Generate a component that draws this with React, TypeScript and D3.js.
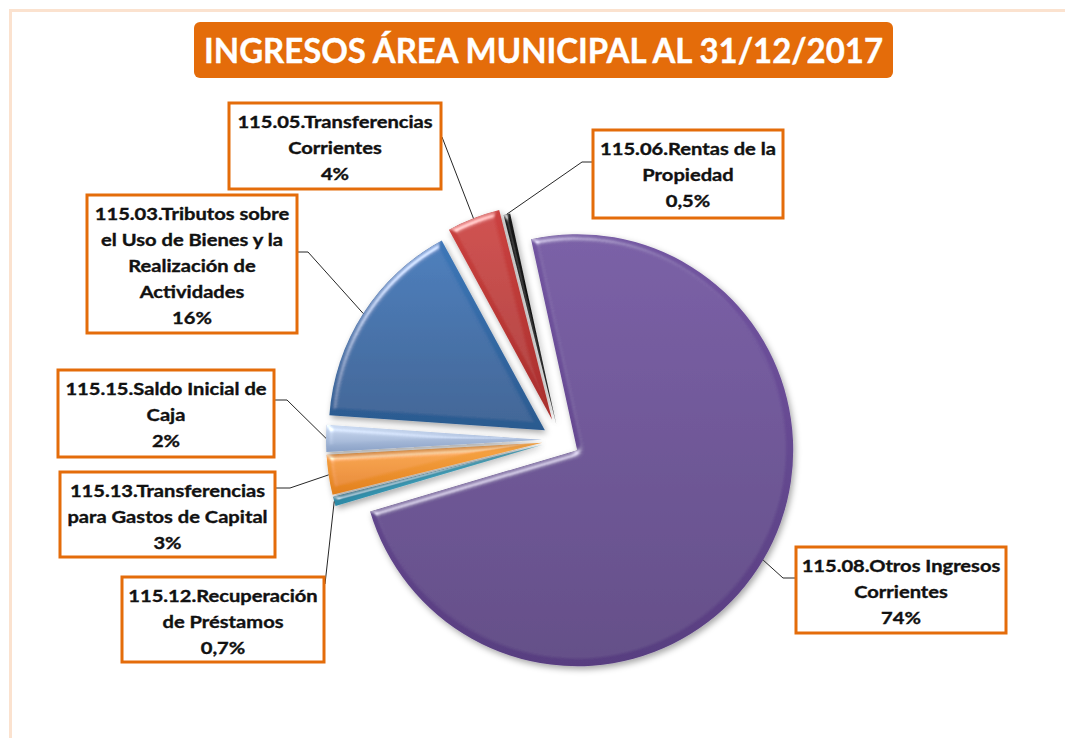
import React, { useEffect, useRef } from 'react';
import * as d3 from 'd3';

// Chart data (order follows the workbook codes, drawn clockwise)
const titleText = 'INGRESOS ÁREA MUNICIPAL AL 31/12/2017';
const categories = ['115.03', '115.05', '115.06', '115.08', '115.12', '115.13', '115.15'];
const categoryLines: string[][] = [
  ['115.03.Tributos sobre', 'el Uso de Bienes y la', 'Realización de', 'Actividades'],
  ['115.05.Transferencias', 'Corrientes'],
  ['115.06.Rentas de la', 'Propiedad'],
  ['115.08.Otros Ingresos', 'Corrientes'],
  ['115.12.Recuperación', 'de Préstamos'],
  ['115.13.Transferencias', 'para Gastos de Capital'],
  ['115.15.Saldo Inicial de', 'Caja'],
];
const values = [16, 4, 0.5, 74, 0.7, 3, 2];
const percentLabels = ['16%', '4%', '0,5%', '74%', '0,7%', '3%', '2%'];

// Styling / layout
const sliceColors: [string, string][] = [
  ['#3d77b8', '#2b5a8f'],
  ['#cc4240', '#a92f2d'],
  ['#1a1a1a', '#000000'],
  ['#7254a1', '#583e80'],
  ['#5cc0da', '#2a88a5'],
  ['#f9a848', '#e27f1c'],
  ['#c9d8ef', '#8aa1c6'],
];
const explodeBy = [18, 22, 16, 20, 18, 18, 18];

interface LabelLayout {
  x: number;
  y: number;
  w: number;
  h: number;
  path: [number, number][];
}

const labelLayout: LabelLayout[] = [
  { x: 87, y: 195, w: 210, h: 138, path: [[308, 252], [297, 252]] },
  { x: 229, y: 103, w: 212, h: 86, path: [[442, 137]] },
  { x: 593, y: 130, w: 190, h: 88, path: [[582, 162], [593, 162]] },
  { x: 796, y: 547, w: 210, h: 86, path: [[783, 578], [796, 578]] },
  { x: 122, y: 577, w: 202, h: 85, path: [[325, 584]] },
  { x: 60, y: 472, w: 215, h: 85, path: [[290, 488], [275, 488]] },
  { x: 58, y: 370, w: 216, h: 87, path: [[287, 400], [274, 400]] },
];

const toRad = (deg: number) => (deg * Math.PI) / 180;

const IngresosPie: React.FC = () => {
  const svgRef = useRef<SVGSVGElement>(null);

  useEffect(() => {
    if (!svgRef.current) return;
    const svg = d3.select(svgRef.current);
    svg.selectAll('*').remove();

    const width = 1065;
    const height = 738;
    const cx = 560;
    const cy = 440;
    const radius = 216;
    const orange = '#e46c0a';
    const font = 'Lato, "Open Sans", sans-serif';
    const stretch = 1.22; // the source picture is wider than it is tall

    const defs = svg.append('defs');

    // bevel + drop shadow, close to the office "soft round" look
    const filter = defs.append('filter')
      .attr('id', 'bevel')
      .attr('x', '-20%').attr('y', '-20%')
      .attr('width', '140%').attr('height', '140%');
    filter.append('feGaussianBlur')
      .attr('in', 'SourceAlpha').attr('stdDeviation', 3).attr('result', 'blur');
    const spec = filter.append('feSpecularLighting')
      .attr('in', 'blur')
      .attr('surfaceScale', 4)
      .attr('specularConstant', 0.6)
      .attr('specularExponent', 25)
      .attr('lighting-color', '#ffffff')
      .attr('result', 'spec');
    spec.append('feDistantLight').attr('azimuth', 235).attr('elevation', 35);
    filter.append('feComposite')
      .attr('in', 'spec').attr('in2', 'SourceAlpha').attr('operator', 'in').attr('result', 'specIn');
    filter.append('feComposite')
      .attr('in', 'SourceGraphic').attr('in2', 'specIn')
      .attr('operator', 'arithmetic')
      .attr('k1', 0).attr('k2', 1).attr('k3', 1).attr('k4', 0)
      .attr('result', 'lit');
    filter.append('feGaussianBlur')
      .attr('in', 'SourceAlpha').attr('stdDeviation', 3).attr('result', 'shadowBlur');
    filter.append('feOffset')
      .attr('in', 'shadowBlur').attr('dx', 2).attr('dy', 3).attr('result', 'shadowOff');
    filter.append('feFlood').attr('flood-color', '#000').attr('flood-opacity', 0.35).attr('result', 'shadowColor');
    filter.append('feComposite')
      .attr('in', 'shadowColor').attr('in2', 'shadowOff').attr('operator', 'in').attr('result', 'shadow');
    const merge = filter.append('feMerge');
    merge.append('feMergeNode').attr('in', 'shadow');
    merge.append('feMergeNode').attr('in', 'lit');

    sliceColors.forEach(([top, bottom], i) => {
      const g = defs.append('linearGradient')
        .attr('id', `slice-grad-${i}`)
        .attr('x1', 0).attr('y1', 0).attr('x2', 0).attr('y2', 1);
      g.append('stop').attr('offset', '0%').attr('stop-color', top);
      g.append('stop').attr('offset', '100%').attr('stop-color', bottom);
    });

    // background and frame
    svg.append('rect')
      .attr('width', width).attr('height', height).attr('fill', '#ffffff');
    svg.append('rect')
      .attr('x', 10.5).attr('y', 10.5)
      .attr('width', width + 40).attr('height', height + 40)
      .attr('fill', '#ffffff')
      .attr('stroke', '#fbe2cf')
      .attr('stroke-width', 3);

    // title
    svg.append('rect')
      .attr('x', 194).attr('y', 22)
      .attr('width', 699).attr('height', 56)
      .attr('rx', 6)
      .attr('fill', orange);
    svg.append('text')
      .attr('x', 543.5).attr('y', 63)
      .attr('text-anchor', 'middle')
      .attr('textLength', 679)
      .attr('lengthAdjust', 'spacingAndGlyphs')
      .style('font-family', font)
      .style('font-weight', 'bold')
      .style('font-size', '34px')
      .attr('fill', '#ffffff')
      .attr('stroke', '#ffffff')
      .attr('stroke-width', 0.4)
      .text(titleText);

    // pie
    const start = toRad(-86);
    const pie = d3.pie<number>()
      .sort(null)
      .value(d => d)
      .startAngle(start)
      .endAngle(start + 2 * Math.PI);
    const arcs = pie(values);
    const arc = d3.arc<d3.PieArcDatum<number>>()
      .innerRadius(0)
      .outerRadius(radius);

    const offsets = arcs.map((a, i) => {
      const mid = (a.startAngle + a.endAngle) / 2;
      return [cx + explodeBy[i] * Math.sin(mid), cy - explodeBy[i] * Math.cos(mid)] as [number, number];
    });

    const pieGroup = svg.append('g').attr('class', 'pie');
    pieGroup.selectAll('path')
      .data(arcs)
      .enter()
      .append('path')
      .attr('transform', (_, i) => `translate(${offsets[i][0]},${offsets[i][1]})`)
      .attr('d', arc)
      .attr('fill', (_, i) => `url(#slice-grad-${i})`)
      .attr('filter', 'url(#bevel)')
      .attr('data-code', (_, i) => categories[i]);

    // leader lines
    const line = d3.line<[number, number]>();
    arcs.forEach((a, i) => {
      const mid = (a.startAngle + a.endAngle) / 2;
      const p0: [number, number] = [
        offsets[i][0] + radius * Math.sin(mid),
        offsets[i][1] - radius * Math.cos(mid),
      ];
      svg.append('path')
        .attr('d', line([p0, ...labelLayout[i].path]))
        .attr('fill', 'none')
        .attr('stroke', '#262626')
        .attr('stroke-width', 1);
    });

    // label boxes
    labelLayout.forEach((box, i) => {
      const g = svg.append('g').attr('class', 'label');
      g.append('rect')
        .attr('x', box.x).attr('y', box.y)
        .attr('width', box.w).attr('height', box.h)
        .attr('fill', '#ffffff')
        .attr('stroke', orange)
        .attr('stroke-width', 3);
      const lines = [...categoryLines[i], percentLabels[i]];
      g.selectAll('text')
        .data(lines)
        .enter()
        .append('text')
        .attr('transform', (_, j) =>
          `translate(${box.x + box.w / 2},${box.y + 24.5 + j * 26}) scale(${stretch},1)`)
        .attr('text-anchor', 'middle')
        .style('font-family', font)
        .style('font-weight', 'bold')
        .style('font-size', '16.5px')
        .attr('fill', '#111111')
        .attr('stroke', '#111111')
        .attr('stroke-width', 0.35)
        .text(d => d);
    });
  }, []);

  return (
    <svg
      ref={svgRef}
      width={1065}
      height={738}
      style={{ position: 'absolute', left: 0, top: 0, display: 'block', background: '#ffffff' }}
    />
  );
};

export default function App() {
  return <IngresosPie />;
}
